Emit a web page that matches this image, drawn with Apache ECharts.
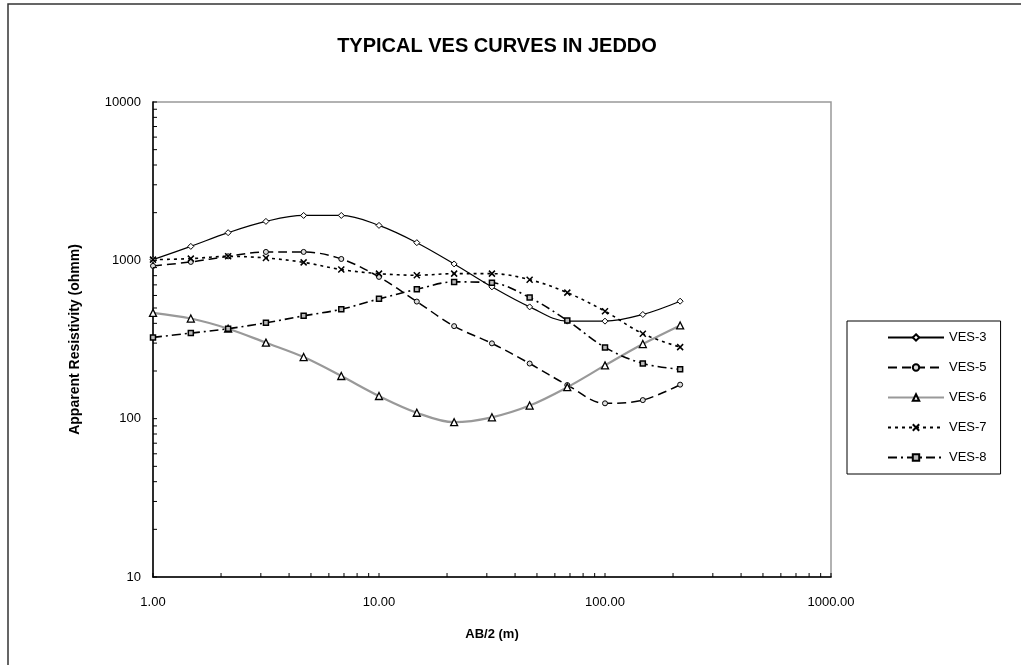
<!DOCTYPE html>
<html>
<head>
<meta charset="utf-8">
<script src="https://cdn.jsdelivr.net/npm/echarts@6/dist/echarts.min.js"></script>
<style>html,body{margin:0;padding:0;background:#fff}#c{width:1021px;height:665px}</style>
</head>
<body>
<div id="c"></div>
<script>
const abHalf = [1, 1.47, 2.15, 3.16, 4.64, 6.81, 10, 14.7, 21.5, 31.6, 46.4, 68.1, 100, 147, 215];
const ves3 = [1010, 1225, 1495, 1762, 1921, 1921, 1662, 1293, 949, 680, 508, 413, 413, 455, 552];
const ves5 = [922, 977, 1060, 1130, 1130, 1020, 786, 549, 384, 299, 223, 163, 125, 131, 164];
const ves6 = [466, 429, 370, 302, 245, 186, 139, 109, 95, 102, 121, 158, 217, 296, 388];
const ves7 = [1010, 1025, 1060, 1035, 971, 874, 824, 805, 824, 824, 755, 625, 477, 344, 283];
const ves8 = [326, 347, 370, 403, 446, 491, 571, 656, 731, 721, 582, 417, 282, 223, 205];
const seriesNames = ['VES-3', 'VES-5', 'VES-6', 'VES-7', 'VES-8'];
const xTickValues = [1,2,3,4,5,6,7,8,9,10,20,30,40,50,60,70,80,90,100,200,300,400,500,600,700,800,900,1000];
const yTickValues = [10,20,30,40,50,60,70,80,90,100,200,300,400,500,600,700,800,900,1000,2000,3000,4000,5000,6000,7000,8000,9000,10000];
const xMin = 1, xMax = 1000, yMin = 10, yMax = 10000;

const FONT = '"Liberation Sans", Arial, sans-serif';
const pairs = arr => abHalf.map((x, i) => [x, arr[i]]);
const crossPath = 'path://M0,0L10,10M10,0L0,10';

function lineSeries(name, data, symbol, size, lineStyle, itemStyle) {
  return {
    name, type: 'line', data: pairs(data), smooth: 0.35,
    symbol, symbolSize: size, showAllSymbol: true,
    lineStyle, itemStyle, emphasis: {disabled: true}, z: 3
  };
}

const chart = echarts.init(document.getElementById('c'), null, {renderer: 'canvas'});
chart.setOption({
  animation: false,
  backgroundColor: '#fff',
  textStyle: {fontFamily: FONT},
  graphic: [{
    type: 'rect', shape: {x: 8, y: 4, width: 1100, height: 700},
    style: {fill: 'none', stroke: '#333', lineWidth: 1.5}, silent: true, z: -10
  }],
  title: {
    text: 'TYPICAL VES CURVES IN JEDDO', left: 492, top: 31, textAlign: 'center',
    textStyle: {fontFamily: FONT, fontSize: 20, fontWeight: 'bold', color: '#000'}
  },
  legend: {
    data: seriesNames, orient: 'vertical', left: 847, top: 321,
    itemWidth: 56, itemHeight: 8, itemGap: 17,
    padding: [10, 14, 10, 40],
    borderColor: '#000', borderWidth: 1,
    textStyle: {fontFamily: FONT, fontSize: 13, color: '#000'},
    selectedMode: false
  },
  grid: {left: 153, top: 102, right: 190, bottom: 88, show: true, borderColor: '#999', borderWidth: 1.5, backgroundColor: '#fff'},
  xAxis: {
    type: 'log', logBase: 10, min: xMin, max: xMax,
    name: 'AB/2 (m)', nameLocation: 'middle', nameGap: 51,
    nameTextStyle: {fontFamily: FONT, fontSize: 13, fontWeight: 'bold', color: '#000'},
    axisLine: {lineStyle: {color: '#000', width: 1.5}},
    axisTick: {show: false}, splitLine: {show: false},
    axisLabel: {margin: 19, fontFamily: FONT, fontSize: 13, color: '#000', formatter: v => Number(v).toFixed(2)}
  },
  yAxis: {
    type: 'log', logBase: 10, min: yMin, max: yMax,
    name: 'Apparent Resistivity (ohmm)', nameLocation: 'middle', nameGap: 71,
    nameTextStyle: {fontFamily: FONT, fontSize: 14, fontWeight: 'bold', color: '#000'},
    axisLine: {lineStyle: {color: '#000', width: 1.5}},
    axisTick: {show: false}, splitLine: {show: false},
    axisLabel: {margin: 12, fontFamily: FONT, fontSize: 13, color: '#000', formatter: v => String(Math.round(v))}
  },
  series: [
    lineSeries('VES-3', ves3, 'diamond', 6, {color: '#000', width: 1.2}, {color: '#fff', borderColor: '#000', borderWidth: 1}),
    lineSeries('VES-5', ves5, 'circle', 5, {color: '#000', width: 1.5, type: [9, 5]}, {color: '#ddd', borderColor: '#000', borderWidth: 1}),
    lineSeries('VES-6', ves6, 'triangle', 7, {color: '#999', width: 2.2}, {color: '#fff', borderColor: '#000', borderWidth: 1.3}),
    lineSeries('VES-7', ves7, crossPath, 6, {color: '#000', width: 1.6, type: [3, 4]}, {color: '#000', borderColor: '#000', borderWidth: 1.5}),
    lineSeries('VES-8', ves8, 'rect', 5, {color: '#000', width: 1.6, type: [9, 4, 2, 4]}, {color: '#bbb', borderColor: '#000', borderWidth: 1.5}),
    {
      type: 'custom', silent: true, clip: false, z: 4,
      data: xTickValues.map(v => [v, yMin]),
      renderItem: (params, api) => {
        const p = api.coord([api.value(0), api.value(1)]);
        return {type: 'line', shape: {x1: p[0], y1: p[1], x2: p[0], y2: p[1] - 4}, style: {stroke: '#000', lineWidth: 1}};
      }
    },
    {
      type: 'custom', silent: true, clip: false, z: 4,
      data: yTickValues.map(v => [xMin, v]),
      renderItem: (params, api) => {
        const p = api.coord([api.value(0), api.value(1)]);
        return {type: 'line', shape: {x1: p[0], y1: p[1], x2: p[0] + 4, y2: p[1]}, style: {stroke: '#000', lineWidth: 1}};
      }
    }
  ]
});
</script>
</body>
</html>
